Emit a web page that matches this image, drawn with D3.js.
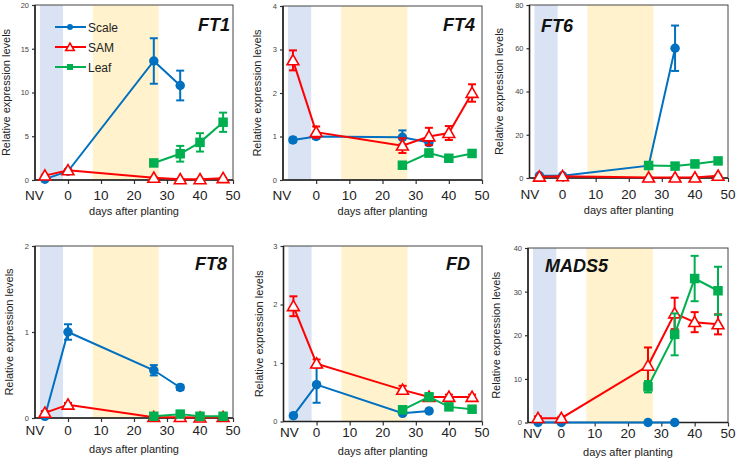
<!DOCTYPE html>
<html><head><meta charset="utf-8">
<script src="https://cdn.jsdelivr.net/npm/d3@7"></script>
<style>body{margin:0;background:#fff}svg{display:block;font-family:"Liberation Sans",Arial,sans-serif}</style>
</head><body>
<svg id="c" width="738" height="464"></svg>
<script>
// ---- data ----
const days = [-7, 0, 26, 34, 40, 47];
const xTicks = [0, 10, 20, 30, 40, 50];
const seriesNames = ["Scale", "SAM", "Leaf"];
const genes = ["FT1", "FT4", "FT6", "FT8", "FD", "MADS5"];
const yMax = [20, 4, 80, 2, 3, 40];
const yStep = [5, 1, 20, 1, 1, 10];
const coldPeriod = [-8.5, -1.5];
const warmPeriod = [7.5, 27.5];

const scaleFT1 = [0.1, 1.0, 13.6, 10.8, null, null];
const scaleFT1Err = [0.05, 0.05, 2.6, 1.7, null, null];
const samFT1 = [0.5, 1.1, 0.25, 0.08, 0.08, 0.2];
const samFT1Err = [0.1, 0.1, 0.05, 0.03, 0.03, 0.05];
const leafFT1 = [null, null, 1.95, 3.0, 4.3, 6.6];
const leafFT1Err = [null, null, 0.2, 0.9, 1.05, 1.1];

const scaleFT4 = [0.92, 1.0, 0.98, 0.86, null, null];
const scaleFT4Err = [0.05, 0.05, 0.16, 0.05, null, null];
const samFT4 = [2.75, 1.1, 0.79, 1.0, 1.08, 2.0];
const samFT4Err = [0.23, 0.13, 0.17, 0.2, 0.16, 0.2];
const leafFT4 = [null, null, 0.34, 0.62, 0.5, 0.61];
const leafFT4Err = [null, null, 0.03, 0.08, 0.03, 0.05];

const scaleFT6 = [1.0, 1.0, 5.7, 60, null, null];
const scaleFT6Err = [0.3, 0.3, 0.5, 10.5, null, null];
const samFT6 = [0.6, 0.8, 0.2, 0.2, 0.2, 1.0];
const samFT6Err = [0.1, 0.1, 0.05, 0.05, 0.05, 0.2];
const leafFT6 = [null, null, 5.8, 5.5, 6.5, 7.9];
const leafFT6Err = [null, null, 0.5, 0.5, 1.5, 0.8];

const scaleFT8 = [0.02, 1.0, 0.555, 0.355, null, null];
const scaleFT8Err = [0.01, 0.09, 0.06, 0.03, null, null];
const samFT8 = [0.06, 0.155, 0.01, 0.01, 0.005, 0.01];
const samFT8Err = [0.02, 0.02, 0.01, 0.03, 0.01, 0.01];
const leafFT8 = [null, null, 0.02, 0.045, 0.02, 0.02];
const leafFT8Err = [null, null, 0.01, 0.01, 0.01, 0.01];

const scaleFD = [0.1, 0.63, 0.14, 0.18, null, null];
const scaleFDErr = [0.01, 0.31, 0.02, 0.02, null, null];
const samFD = [1.97, 0.99, 0.54, 0.42, 0.42, 0.42];
const samFDErr = [0.17, 0.07, 0.07, 0.04, 0.04, 0.04];
const leafFD = [null, null, 0.2, 0.42, 0.25, 0.21];
const leafFDErr = [null, null, 0.02, 0.06, 0.04, 0.02];

const scaleMADS5 = [0, 0, 0, 0, null, null];
const scaleMADS5Err = [0, 0, 0, 0, null, null];
const samMADS5 = [1.0, 1.0, 13.0, 25.0, 23.0, 22.5];
const samMADS5Err = [0.4, 0.3, 4.2, 3.6, 2.3, 2.3];
const leafMADS5 = [null, null, 8.2, 20.2, 33.0, 30.2];
const leafMADS5Err = [null, null, 1.3, 4.8, 5.2, 5.5];

// ---- layout / style ----
const colors = {Scale: "#0070c0", SAM: "#ff0000", Leaf: "#00b050"};
const panels = [
  {l: 35, r: 233, t: 5, b: 180, tickY: 200, nvDx: -0.5, xTitleY: 215, yTitleX: 10, titleX: 230, titleY: 31, anchor: "end"},
  {l: 283, r: 482, t: 6, b: 180, tickY: 200, nvDx: -1, xTitleY: 215, yTitleX: 261, titleX: 475, titleY: 31, anchor: "end"},
  {l: 529.5, r: 728, t: 5, b: 178, tickY: 198.5, nvDx: 0.5, xTitleY: 214, yTitleX: 503, titleX: 541, titleY: 32, anchor: "start"},
  {l: 35, r: 233, t: 246, b: 418, tickY: 435, nvDx: 0, xTitleY: 453, yTitleX: 13, titleX: 227, titleY: 270, anchor: "end"},
  {l: 283.5, r: 482, t: 246, b: 421.5, tickY: 436.5, nvDx: 6, xTitleY: 455, yTitleX: 263, titleX: 470, titleY: 270, anchor: "end"},
  {l: 528, r: 728, t: 248, b: 422.5, tickY: 437.5, nvDx: 4.5, xTitleY: 456, yTitleX: 500, titleX: 545, titleY: 272, anchor: "start"}
];
const dataByGene = {
  FT1: [[scaleFT1, scaleFT1Err], [samFT1, samFT1Err], [leafFT1, leafFT1Err]],
  FT4: [[scaleFT4, scaleFT4Err], [samFT4, samFT4Err], [leafFT4, leafFT4Err]],
  FT6: [[scaleFT6, scaleFT6Err], [samFT6, samFT6Err], [leafFT6, leafFT6Err]],
  FT8: [[scaleFT8, scaleFT8Err], [samFT8, samFT8Err], [leafFT8, leafFT8Err]],
  FD: [[scaleFD, scaleFDErr], [samFD, samFDErr], [leafFD, leafFDErr]],
  MADS5: [[scaleMADS5, scaleMADS5Err], [samMADS5, samMADS5Err], [leafMADS5, leafMADS5Err]]
};

const svg = d3.select("#c");

function drawMarker(g, name, cx, cy, size) {
  const c = colors[name];
  if (name === "Scale") {
    g.append("circle").attr("cx", cx).attr("cy", cy).attr("r", size / 2).attr("fill", c);
  } else if (name === "Leaf") {
    g.append("rect").attr("x", cx - size / 2).attr("y", cy - size / 2)
      .attr("width", size).attr("height", size).attr("fill", c);
  } else {
    g.append("path").attr("d", d3.symbol(d3.symbolTriangle, size * size * 0.5)())
      .attr("transform", `translate(${cx},${cy + 1})`)
      .attr("fill", "#fff").attr("stroke", c).attr("stroke-width", 1.6);
  }
}

genes.forEach((gene, i) => {
  const p = panels[i];
  const x = d3.scaleLinear().domain([-10, 50]).range([p.l, p.r]);
  const y = d3.scaleLinear().domain([0, yMax[i]]).range([p.b, p.t]);
  const g = svg.append("g");

  // shaded periods
  g.append("rect").attr("x", x(coldPeriod[0])).attr("y", p.t)
    .attr("width", x(coldPeriod[1]) - x(coldPeriod[0])).attr("height", p.b - p.t).attr("fill", "#dae3f3");
  g.append("rect").attr("x", x(warmPeriod[0])).attr("y", p.t)
    .attr("width", x(warmPeriod[1]) - x(warmPeriod[0])).attr("height", p.b - p.t).attr("fill", "#fff2cc");

  // axes
  const xa = g.append("g").attr("transform", `translate(0,${p.b})`)
    .call(d3.axisBottom(x).tickValues(xTicks).tickSize(4).tickSizeOuter(0).tickFormat(""));
  xa.select(".domain").remove();
  xa.selectAll("line").attr("stroke", "#333").attr("stroke-width", 1.2);
  xTicks.forEach(t => {
    g.append("text").attr("x", x(t)).attr("y", p.tickY).attr("text-anchor", "middle")
      .attr("font-size", 13.5).attr("fill", "#222").text(t);
  });
  g.append("text").attr("x", x(-10) + p.nvDx).attr("y", p.tickY).attr("text-anchor", "middle")
    .attr("font-size", 13.5).attr("fill", "#222").text("NV");

  const yTicks = d3.range(0, yMax[i] + 1e-9, yStep[i]);
  const ya = g.append("g").attr("transform", `translate(${p.l},0)`)
    .call(d3.axisLeft(y).tickValues(yTicks).tickFormat(d3.format("d")).tickSize(3).tickSizeOuter(0).tickPadding(3));
  ya.select(".domain").remove();
  ya.selectAll("line").attr("stroke", "#333").attr("stroke-width", 1.2);
  ya.selectAll("text").attr("font-size", 7.5).attr("fill", "#444").attr("font-family", '"Liberation Sans",Arial,sans-serif');

  g.append("rect").attr("x", p.l).attr("y", p.t).attr("width", p.r - p.l).attr("height", p.b - p.t)
    .attr("fill", "none").attr("stroke", "#444").attr("stroke-width", 1);
  g.append("line").attr("x1", p.l).attr("x2", p.l).attr("y1", p.t).attr("y2", p.b).attr("stroke", "#222").attr("stroke-width", 1.6);
  g.append("line").attr("x1", p.l).attr("x2", p.r).attr("y1", p.b).attr("y2", p.b).attr("stroke", "#222").attr("stroke-width", 1.6);

  // axis titles
  g.append("text").attr("transform", `translate(${p.yTitleX},${(p.t + p.b) / 2}) rotate(-90)`)
    .attr("text-anchor", "middle").attr("font-size", 11).attr("fill", "#222").text("Relative expression levels");
  g.append("text").attr("x", (p.l + p.r) / 2).attr("y", p.xTitleY).attr("text-anchor", "middle")
    .attr("font-size", 11).attr("fill", "#222").text("days after planting");

  // series
  dataByGene[gene].forEach(([vals, errs], si) => {
    const name = seriesNames[si];
    const c = colors[name];
    const pts = days.map((d, k) => ({d, v: vals[k], e: errs[k]})).filter(o => o.v != null);
    g.append("path").datum(pts)
      .attr("d", d3.line().x(o => x(o.d)).y(o => y(o.v)))
      .attr("fill", "none").attr("stroke", c).attr("stroke-width", 2);
    pts.forEach(o => {
      if (o.e) {
        const y1 = y(o.v + o.e), y2 = y(Math.max(0, o.v - o.e));
        g.append("line").attr("x1", x(o.d)).attr("x2", x(o.d)).attr("y1", y1).attr("y2", y2).attr("stroke", c).attr("stroke-width", 2);
        [y1, y2].forEach(yy => g.append("line").attr("x1", x(o.d) - 4).attr("x2", x(o.d) + 4)
          .attr("y1", yy).attr("y2", yy).attr("stroke", c).attr("stroke-width", 2));
      }
    });
    pts.forEach(o => drawMarker(g, name, x(o.d), y(o.v), name === "SAM" ? 11 : 9.5));
  });

  // title
  g.append("text").attr("x", p.titleX).attr("y", p.titleY).attr("text-anchor", p.anchor)
    .attr("font-size", 18).attr("font-weight", "bold").attr("font-style", "italic").attr("fill", "#111").text(gene);

  // legend (first panel only)
  if (i === 0) {
    seriesNames.forEach((name, k) => {
      const ly = 27 + k * 20;
      g.append("line").attr("x1", 55).attr("x2", 86).attr("y1", ly).attr("y2", ly)
        .attr("stroke", colors[name]).attr("stroke-width", 2);
      drawMarker(g, name, 70, ly, name === "SAM" ? 8 : 6);
      g.append("text").attr("x", 88).attr("y", ly + 4.5).attr("font-size", 12).attr("fill", "#222").text(name);
    });
  }
});
</script>
</body></html>
